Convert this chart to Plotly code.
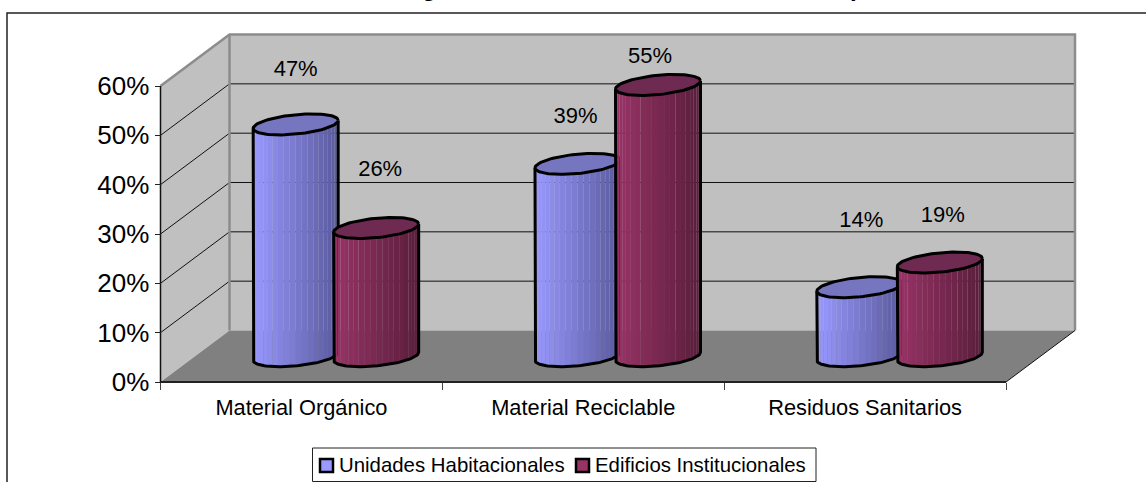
import numpy as np
import plotly.graph_objects as go

# Chart data
categories = ["Material Orgánico", "Material Reciclable", "Residuos Sanitarios"]
series_names = ["Unidades Habitacionales", "Edificios Institucionales"]
unidades = [47, 39, 14]
edificios = [26, 55, 19]
y_ticks = [0, 10, 20, 30, 40, 50, 60]

# Label lift above each cylinder top, in percentage points
unidades_lift = [10.9, 9.4, 13.3]
edificios_lift = [11.6, 5.5, 9.4]
# Sideways label nudges, in pixels
unidades_nudge = [0, -2, 2]
edificios_nudge = [4, -8, 3]

W, H = 1146, 482
FONT = "Liberation Sans"

# Pixel frame of the front plane of the 3D box
X0_PX, X3_PX = 160.5, 1006.0
Y0_PX, Y_UNIT_PX = 382.0, 4.933
X_UNIT_PX = (X3_PX - X0_PX) / 3

# Size helpers: pixel lengths expressed in axis units
def dx(px):
    return px / X_UNIT_PX

def dy(px):
    return px / Y_UNIT_PX

DEPTH_X, DEPTH_Y = dx(69), dy(51.5)
TOP = y_ticks[-1]
CYL_A, CYL_B, CYL_S = dx(42.5), dy(9.7), dy(4)
SERIES_SHIFT = dx(40.25)
N_STRIPS = 22

fig = go.Figure()


def poly(xs, ys, fill=None, line=None, width=1):
    fig.add_trace(go.Scatter(
        x=list(xs), y=list(ys), mode="lines",
        fill="toself" if fill else "none", fillcolor=fill,
        line=dict(color=line or "rgba(0,0,0,0)", width=width if line else 0),
        hoverinfo="skip", showlegend=False,
    ))


# Walls and floor of the box
poly([DEPTH_X, 3 + DEPTH_X, 3 + DEPTH_X, DEPTH_X], [DEPTH_Y, DEPTH_Y, TOP + DEPTH_Y, TOP + DEPTH_Y], fill="#C0C0C0")
poly([0, DEPTH_X, DEPTH_X, 0], [0, DEPTH_Y, TOP + DEPTH_Y, TOP], fill="#C0C0C0")
poly([0, 3, 3 + DEPTH_X, DEPTH_X], [0, 0, DEPTH_Y, DEPTH_Y], fill="#808080")

# Gridlines across the side and back walls
for v in y_ticks[1:-1]:
    poly([0, DEPTH_X, 3 + DEPTH_X], [v, v + DEPTH_Y, v + DEPTH_Y], line="#111111", width=1)

# Grey wall borders, floor edge and axis lines
poly([0, DEPTH_X, 3 + DEPTH_X, 3 + DEPTH_X], [TOP, TOP + DEPTH_Y, TOP + DEPTH_Y, DEPTH_Y], line="#8C8C8C", width=2.5)
poly([DEPTH_X, DEPTH_X], [DEPTH_Y, TOP + DEPTH_Y], line="#8C8C8C", width=2.5)
poly([3, 3 + DEPTH_X], [0, DEPTH_Y], line="#111111", width=1)
poly([0, 0], [0, TOP], line="#111111", width=1.5)
poly([0, 3], [0, 0], line="#222222", width=2)


def mix(a, b, f):
    return "rgb(%d,%d,%d)" % tuple(round(p + (q - p) * f) for p, q in zip(a, b))


def cylinder(cx, value, left_rgb, right_rgb, cap):
    base = DEPTH_Y / 2
    top = base + value
    edges = np.linspace(np.pi, 0, N_STRIPS + 1)
    for t0, t1 in zip(edges[:-1], edges[1:]):
        ts = np.linspace(t0, t1, 4)
        xs = cx + CYL_A * np.cos(ts)
        lower = CYL_S * np.cos(ts) - CYL_B * np.sin(ts)
        f = (xs.mean() - (cx - CYL_A)) / (2 * CYL_A)
        poly(np.r_[xs, xs[::-1]], np.r_[base + lower, (top + lower)[::-1]], fill=mix(left_rgb, right_rgb, f))
    # Outline of the body and the elliptical lid
    ts = np.linspace(np.pi, 0, 60)
    xs = cx + CYL_A * np.cos(ts)
    lower = base + CYL_S * np.cos(ts) - CYL_B * np.sin(ts)
    poly(np.r_[cx - CYL_A, xs, cx + CYL_A], np.r_[top - CYL_S, lower, top + CYL_S], line="#000000", width=3)
    ts = np.linspace(0, 2 * np.pi, 90)
    poly(cx + CYL_A * np.cos(ts), top + CYL_S * np.cos(ts) + CYL_B * np.sin(ts), fill=cap, line="#000000", width=3)


BLUE = ((153, 153, 255), (90, 90, 156), "#7676C0")
WINE = ((153, 51, 102), (90, 30, 60), "#6F2A52")

label_x, label_y, label_text = [], [], []
for i in range(len(categories)):
    center = i + 0.5 + DEPTH_X / 2
    cylinder(center - SERIES_SHIFT, unidades[i], *BLUE)
    cylinder(center + SERIES_SHIFT, edificios[i], *WINE)
    label_x += [center - SERIES_SHIFT + dx(unidades_nudge[i]), center + SERIES_SHIFT + dx(edificios_nudge[i])]
    label_y += [DEPTH_Y / 2 + unidades[i] + unidades_lift[i], DEPTH_Y / 2 + edificios[i] + edificios_lift[i]]
    label_text += [f"{unidades[i]}%", f"{edificios[i]}%"]

fig.add_trace(go.Scatter(
    x=label_x, y=label_y, text=label_text, mode="text", textposition="middle center",
    textfont=dict(family=FONT, size=22, color="#000000"), hoverinfo="skip", showlegend=False,
))

# Page coordinates for the outer frame and the key
def px(x):
    return x / W

def py(y):
    return 1 - y / H


shapes = [
    dict(type="rect", xref="paper", yref="paper", x0=px(7), x1=1.02, y0=-0.02, y1=py(13),
         line=dict(color="#222222", width=1.5), fillcolor="rgba(0,0,0,0)", layer="below"),
    dict(type="rect", xref="paper", yref="paper", x0=px(312.5), x1=px(816), y0=py(481.5), y1=py(448),
         line=dict(color="#222222", width=1), fillcolor="#FFFFFF"),
]
annotations = []
for name, color, sx, tx in zip(series_names, ["#9999FF", "#993366"], [320, 576], [336.5, 592.5]):
    shapes.append(dict(type="rect", xref="paper", yref="paper", x0=px(sx), x1=px(sx + 13),
                       y0=py(472), y1=py(459), fillcolor=color, line=dict(color="#000000", width=2.5)))
    annotations.append(dict(text=name, xref="paper", yref="paper", x=px(tx), y=py(465), xanchor="left",
                            yanchor="middle", showarrow=False, font=dict(family=FONT, size=20.4, color="#000000")))

# The title sits above the page edge; only the tails of its descenders reach the page
for letter, tx in [("g", 429), ("p", 857)]:
    annotations.append(dict(text=f"<b>{letter}</b>", xref="paper", yref="paper", x=px(tx), y=py(3), xanchor="center",
                            yanchor="bottom", showarrow=False, font=dict(family=FONT, size=24, color="#000000")))

fig.update_layout(
    width=W, height=H, margin=dict(l=0, r=0, t=0, b=0), autosize=False,
    paper_bgcolor="#FFFFFF", plot_bgcolor="#FFFFFF", showlegend=False,
    shapes=shapes, annotations=annotations,
    xaxis=dict(
        domain=[0, 1], range=[-X0_PX / X_UNIT_PX, (W - X0_PX) / X_UNIT_PX],
        anchor="free", position=(H - Y0_PX) / H, showgrid=False, zeroline=False, showline=False,
        tickmode="array", tickvals=[0.5, 1.5, 2.5], ticktext=categories, ticks="outside", ticklen=0,
        ticklabelstandoff=6, tickfont=dict(family=FONT, size=21.8, color="#000000"),
        minor=dict(tickmode="array", tickvals=[0, 1, 2, 3], ticks="outside", ticklen=7, tickwidth=1, tickcolor="#444444"),
    ),
    yaxis=dict(
        domain=[0, 1], range=[-(H - Y0_PX) / Y_UNIT_PX, Y0_PX / Y_UNIT_PX],
        anchor="free", position=X0_PX / W, showgrid=False, zeroline=False, showline=False,
        tickmode="array", tickvals=y_ticks, ticktext=[f"{v}%" for v in y_ticks], ticks="outside", ticklen=6,
        tickwidth=1, tickcolor="#222222", tickfont=dict(family=FONT, size=26, color="#000000"),
    ),
)

fig.write_html("out.html")
